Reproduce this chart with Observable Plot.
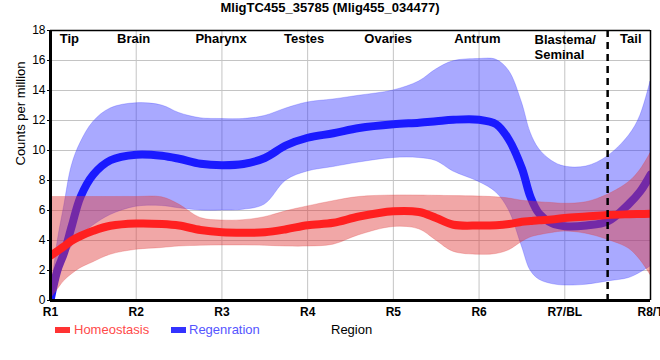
<!DOCTYPE html>
<html>
<head>
<meta charset="utf-8">
<script src="https://cdn.jsdelivr.net/npm/d3@7"></script>
<script src="https://cdn.jsdelivr.net/npm/@observablehq/plot@0.6"></script>
<style>
  html, body { margin: 0; padding: 0; background: #fff; }
  body { width: 660px; height: 360px; overflow: hidden; font-family: "Liberation Sans", Arial, sans-serif; }
  #title { height: 22px; line-height: 15px; text-align: center; font-weight: bold; font-size: 13px; color: #000; }
  #legend { position: relative; height: 40px; font-size: 13px; }
  #legend .sw { position: absolute; top: 7px; width: 15px; height: 6px; }
  #legend .lb { position: absolute; top: 3px; line-height: 14px; white-space: nowrap; }
</style>
</head>
<body>
<div id="title">MligTC455_35785 (Mlig455_034477)</div>
<div id="chart"></div>
<div id="legend">
  <div class="sw" style="left:55px;background:#ff3333"></div>
  <div class="lb" style="left:74px;color:#ff4a4a">Homeostasis</div>
  <div class="sw" style="left:171px;background:#3333ff"></div>
  <div class="lb" style="left:189px;color:#5555ff">Regenration</div>
  <div class="lb" style="left:331px;color:#000">Region</div>
</div>
<script>
// ---- data ----
const xs = [1, 1.08, 1.16, 1.25, 1.35, 1.5, 1.7, 2, 2.3, 2.5, 2.75, 3, 3.25, 3.5, 3.75, 4, 4.3, 4.6, 5, 5.3, 5.5, 5.7, 6, 6.2, 6.35, 6.5, 6.6, 6.7, 6.85, 7, 7.25, 7.5, 7.75, 7.88, 8];
const homeMean = [2.98, 3.3, 3.62, 4.0, 4.3, 4.65, 4.98, 5.13, 5.1, 5.0, 4.7, 4.55, 4.52, 4.55, 4.75, 5.02, 5.18, 5.6, 5.95, 5.9, 5.5, 5.05, 5.0, 5.02, 5.1, 5.25, 5.3, 5.35, 5.4, 5.5, 5.6, 5.7, 5.75, 5.77, 5.78];
const homeLo = [0.1, 0.7, 1.3, 1.75, 2.15, 2.55, 3.05, 3.38, 3.5, 3.6, 3.65, 3.67, 3.67, 3.65, 3.6, 3.6, 3.72, 4.35, 4.9, 4.75, 4.0, 3.25, 3.05, 3.1, 3.35, 3.9, 4.2, 4.35, 4.5, 4.6, 4.45, 4.05, 3.45, 2.7, 1.7];
const homeHi = [6.9, 6.9, 6.9, 6.9, 6.9, 6.9, 6.9, 6.9, 6.88, 6.4, 5.5, 5.33, 5.35, 5.55, 5.95, 6.27, 6.62, 6.9, 7.0, 7.0, 6.98, 6.96, 6.93, 6.88, 6.8, 6.65, 6.6, 6.55, 6.5, 6.45, 6.55, 7.05, 7.9, 8.7, 9.82];
const regenMean = [0, 2.0, 3.2, 5.0, 6.9, 8.4, 9.35, 9.72, 9.65, 9.45, 9.12, 9.02, 9.1, 9.5, 10.35, 10.85, 11.15, 11.5, 11.75, 11.85, 11.95, 12.05, 12.05, 11.75, 10.7, 8.8, 6.9, 5.8, 5.15, 4.95, 5.0, 5.27, 6.45, 7.27, 8.38];
const regenLo = [0, 1.2, 2.7, 3.6, 4.3, 5.0, 5.7, 6.25, 6.3, 6.15, 6.0, 6.0, 6.05, 6.4, 8.0, 8.6, 8.9, 9.2, 9.5, 9.5, 9.3, 8.6, 7.9, 7.2, 6.0, 3.6, 2.0, 1.4, 1.1, 1.0, 1.05, 1.27, 1.5, 1.85, 2.27];
const regenHi = [0, 3.8, 6.3, 9.0, 10.5, 11.9, 12.8, 13.15, 13.0, 12.5, 12.15, 12.1, 12.1, 12.3, 12.8, 13.2, 13.4, 13.65, 14.0, 14.6, 15.4, 15.95, 16.1, 16.05, 15.3, 13.2, 11.2, 10.1, 9.3, 8.93, 8.93, 9.6, 11.0, 12.3, 14.6];

const xTickValues = [1, 2, 3, 4, 5, 6, 7, 8];
const xTickLabels = ["R1", "R2", "R3", "R4", "R5", "R6", "R7/BL", "R8/T"];
const yTickValues = [0, 2, 4, 6, 8, 10, 12, 14, 16, 18];
const regionNames = ["Tip", "Brain", "Pharynx", "Testes", "Ovaries", "Antrum", "Tail"];
const regionPos = [1.22, 1.97, 2.99, 3.96, 4.94, 5.98, 7.77];
const blastemaName = "Blastema/\nSeminal";
const blastemaPos = 6.647;
const dividerPos = 7.5;

const rows = xs.map((x, i) => ({
  x, hm: homeMean[i], hl: homeLo[i], hh: homeHi[i],
  rm: regenMean[i], rl: regenLo[i], rh: regenHi[i]
}));
const regionRows = regionNames.map((t, i) => ({t, x: regionPos[i]}));

const curve = "catmull-rom";
const chart = Plot.plot({
  width: 660,
  height: 298,
  marginLeft: 50,
  marginRight: 10,
  marginTop: 8,
  marginBottom: 20,
  style: {fontFamily: "'Liberation Sans', Arial, sans-serif", background: "#fff"},
  x: {domain: [1, 8]},
  y: {domain: [0, 18]},
  marks: [
    Plot.gridY(yTickValues.filter(v => v > 0 && v < 18), {stroke: "#c4c4c4", strokeOpacity: 1, strokeWidth: 1}),
    Plot.gridX(xTickValues.filter(v => v > 1 && v < 8), {stroke: "#c4c4c4", strokeOpacity: 1, strokeWidth: 1}),
    Plot.areaY(rows, {x: "x", y1: "rl", y2: "rh", curve, fill: "#3333ff", fillOpacity: 0.42, stroke: "#3333ff", strokeOpacity: 0.25, strokeWidth: 1, clip: true}),
    Plot.lineY(rows, {x: "x", y: "rm", curve, stroke: "#1a1aff", strokeWidth: 8, clip: true}),
    Plot.areaY(rows, {x: "x", y1: "hl", y2: "hh", curve, fill: "#e03c3c", fillOpacity: 0.45, stroke: "#e03c3c", strokeOpacity: 0.25, strokeWidth: 1, clip: true}),
    Plot.lineY(rows, {x: "x", y: "hm", curve, stroke: "#ff2020", strokeWidth: 8, clip: true}),
    Plot.ruleX([dividerPos], {stroke: "#000", strokeWidth: 2.5, strokeDasharray: "7,5", insetBottom: -6}),
    Plot.ruleY([18], {stroke: "#000", strokeWidth: 1.5}),
    Plot.ruleX([8], {stroke: "#000", strokeWidth: 1.5}),
    Plot.ruleY([0], {stroke: "#000", strokeWidth: 3}),
    Plot.ruleX([1], {stroke: "#000", strokeWidth: 3}),
    Plot.axisX({ticks: xTickValues, tickFormat: d => xTickLabels[xTickValues.indexOf(d)], tickSize: 0, tickPadding: 7, fontSize: 12, fontWeight: "bold", label: null, fill: "#000"}),
    Plot.axisY({ticks: yTickValues, tickSize: 3, tickPadding: 2, fontSize: 12, label: null, fill: "#000"}),
    Plot.text(regionRows, {x: "x", y: () => 18, text: "t", dy: 3, lineAnchor: "top", fontSize: 13, fontWeight: "bold", fill: "#000"}),
    Plot.text([blastemaName], {x: () => blastemaPos, y: () => 18, text: d => d, dy: 3, lineAnchor: "top", textAnchor: "start", lineHeight: 1.15, fontSize: 13, fontWeight: "bold", fill: "#000"}),
    Plot.text(["Counts per million"], {frameAnchor: "left", dx: -30, rotate: -90, text: d => d, fontSize: 13, fill: "#000"})
  ]
});
document.getElementById("chart").appendChild(chart);
</script>
</body>
</html>
